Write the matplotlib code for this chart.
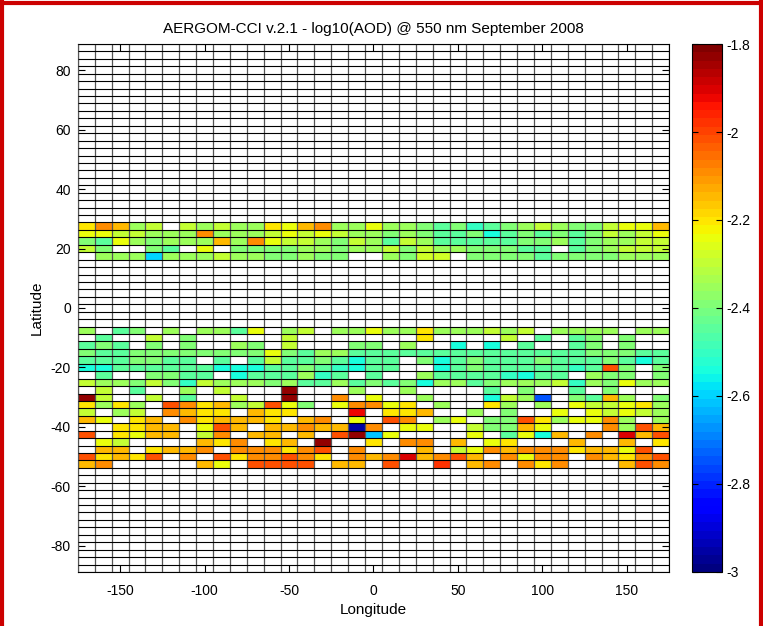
import numpy as np
import matplotlib
matplotlib.use("Agg")
import matplotlib.pyplot as plt
from matplotlib.lines import Line2D

plt.rcParams["font.family"] = ["Liberation Sans", "DejaVu Sans"]
plt.rcParams["axes.unicode_minus"] = False

n = np.nan

# 10 x 2.5 degree cells, edges of the full grid
lon_edges = np.arange(-175, 176, 10)
lat_edges = np.arange(-88.75, 88.76, 2.5)

# northern band (rows from north to south)
lat_north = [27.5, 25.0, 22.5, 20.0, 17.5]
aod_north = [
    [-2.2, -2.1, -2.15, -2.35, -2.3, n, -2.3, -2.35, -2.3, -2.35, -2.35, -2.2, -2.25, -2.15, -2.1, -2.35, -2.35, -2.25, -2.35, -2.35, -2.4, -2.45, -2.4, -2.5, -2.45, -2.4, -2.35, -2.3, -2.35, -2.4, -2.4, -2.3, -2.25, -2.25, -2.15],
    [-2.25, -2.25, -2.3, -2.3, -2.35, -2.35, -2.35, -2.1, -2.35, -2.35, -2.35, -2.3, -2.25, -2.3, -2.25, -2.3, -2.35, -2.35, -2.4, -2.35, -2.4, -2.45, -2.45, -2.4, -2.55, -2.45, -2.4, -2.45, -2.4, -2.45, -2.4, -2.3, -2.35, -2.3, -2.25],
    [-2.4, -2.45, -2.25, -2.35, -2.4, -2.35, -2.35, -2.35, -2.15, -2.35, -2.1, -2.25, -2.3, -2.3, -2.35, -2.4, -2.3, -2.35, -2.45, -2.3, -2.35, -2.45, -2.45, -2.45, -2.45, -2.45, -2.4, -2.4, -2.35, -2.45, -2.4, -2.35, -2.35, -2.3, -2.3],
    [-2.3, -2.4, n, n, -2.4, -2.45, n, -2.25, n, -2.4, -2.4, -2.4, -2.4, -2.35, -2.35, -2.4, -2.35, -2.35, -2.3, -2.4, -2.3, -2.35, -2.35, -2.4, -2.4, -2.4, -2.45, -2.45, n, -2.45, -2.4, -2.35, -2.3, -2.3, -2.3],
    [n, -2.35, -2.35, -2.35, -2.6, -2.35, -2.35, -2.35, -2.3, -2.35, -2.35, -2.4, -2.4, -2.35, -2.4, -2.4, n, n, -2.35, -2.4, -2.28, -2.28, n, -2.4, -2.4, -2.4, -2.4, -2.45, -2.4, -2.4, -2.4, -2.4, -2.35, -2.35, -2.35],
]

# southern band (rows from north to south)
lat_south = [-7.5, -10.0, -12.5, -15.0, -17.5, -20.0, -22.5, -25.0, -27.5, -30.0,
             -32.5, -35.0, -37.5, -40.0, -42.5, -45.0, -47.5, -50.0, -52.5]
aod_south = [
    [-2.35, n, -2.45, -2.4, n, -2.35, n, -2.35, -2.35, -2.45, -2.25, n, -2.35, -2.3, n, -2.35, -2.35, -2.25, -2.35, -2.35, -2.2, -2.35, -2.35, -2.35, -2.3, -2.35, -2.3, n, -2.35, -2.35, -2.35, -2.35, n, -2.35, -2.35],
    [n, -2.45, n, n, -2.3, n, -2.4, n, n, n, n, n, -2.3, n, n, n, n, n, n, n, -2.2, n, n, n, n, -2.3, n, -2.45, n, -2.45, -2.4, n, -2.4, n, n],
    [-2.45, -2.4, -2.45, n, -2.4, n, -2.4, n, n, -2.35, -2.4, n, -2.3, n, n, n, -2.4, -2.4, n, -2.35, n, n, -2.55, n, -2.55, n, -2.45, n, n, -2.45, -2.4, n, -2.4, n, n],
    [-2.4, -2.45, -2.45, -2.4, -2.4, -2.4, -2.4, -2.4, -2.4, -2.4, -2.4, -2.25, -2.4, -2.45, -2.35, -2.35, -2.45, -2.45, -2.45, -2.45, -2.45, -2.45, -2.45, -2.45, -2.45, -2.45, -2.45, -2.45, -2.45, -2.45, -2.4, -2.4, -2.4, -2.45, -2.45],
    [-2.45, -2.45, -2.45, -2.4, -2.4, -2.45, -2.45, n, -2.45, n, -2.45, -2.3, -2.45, -2.45, -2.4, -2.45, -2.55, -2.45, -2.45, n, -2.4, -2.55, -2.45, -2.4, -2.45, -2.45, -2.45, -2.4, -2.45, -2.45, -2.45, -2.4, -2.45, -2.55, -2.45],
    [-2.55, -2.55, -2.45, -2.45, -2.45, -2.45, -2.45, -2.45, -2.55, -2.55, -2.55, -2.45, -2.45, -2.4, -2.45, -2.5, -2.55, -2.45, -2.45, n, n, -2.55, -2.45, -2.4, -2.45, -2.45, -2.45, -2.45, -2.45, -2.5, -2.45, -2.02, -2.4, n, -2.4],
    [n, -2.45, n, n, -2.4, -2.4, -2.45, -2.45, n, -2.55, -2.45, -2.45, -2.45, -2.35, -2.5, -2.45, n, -2.45, n, n, -2.35, -2.45, -2.45, -2.45, -2.45, -2.5, -2.55, -2.45, -2.45, n, -2.35, -2.4, -2.4, n, -2.4],
    [-2.3, -2.35, -2.35, -2.4, -2.3, -2.4, -2.5, -2.3, -2.35, -2.35, -2.35, -2.4, -2.35, -2.45, -2.45, -2.35, -2.45, -2.4, -2.45, -2.4, -2.55, -2.35, -2.35, -2.45, -2.4, -2.35, -2.35, -2.35, -2.3, -2.5, -2.35, -2.4, -2.25, -2.35, -2.35],
    [n, -2.3, n, -2.45, n, n, -2.35, n, -2.3, n, n, n, -1.82, n, n, n, -2.35, n, n, -2.35, n, n, n, n, -2.45, n, -2.4, n, n, -2.45, n, -2.4, n, n, n],
    [-1.82, -2.3, n, n, -2.3, n, -2.45, n, n, -2.3, n, n, -1.82, n, n, -2.1, n, -2.25, n, n, -2.35, n, n, n, -2.55, -2.3, -2.35, -2.75, n, -2.4, -2.45, -2.15, -2.35, n, -2.4],
    [-2.2, -2.35, -2.2, -2.35, n, -2.02, -2.1, -2.2, -2.15, -2.35, -2.3, -2.02, -2.25, -2.4, n, -2.25, -2.1, -2.1, -2.25, -2.2, n, -2.35, n, n, -2.2, -2.35, n, -2.35, n, -2.25, -2.3, -2.3, -2.25, -2.2, -2.35],
    [-2.3, n, -2.35, -2.3, n, -2.1, -2.15, -2.2, -2.2, n, -2.15, -2.2, -2.2, n, n, n, -1.92, n, -2.2, -2.2, -2.15, n, n, -2.35, n, -2.4, n, n, -2.25, n, -2.25, -2.3, -2.25, -2.3, -2.35],
    [-2.15, -2.25, n, -2.2, -2.15, n, -2.1, -2.2, -2.15, -2.15, -2.15, -2.2, n, -2.15, -2.1, n, -2.25, n, -2.02, -2.1, n, -2.35, -2.25, n, -2.4, -2.4, -2.02, -2.2, -2.35, -2.25, -2.25, -2.1, -2.35, n, -2.35],
    [n, n, -2.2, -2.2, -2.15, -2.15, n, -2.25, -2.02, -2.15, n, -2.15, -2.15, -2.1, -2.15, -2.15, -2.95, -2.1, n, -2.25, -2.25, n, n, -2.3, -2.4, -2.4, -2.15, -2.25, n, n, n, -2.1, -2.35, -2.02, -2.15],
    [-2.02, n, -2.2, -2.25, -2.15, -2.15, n, -2.3, -2.1, n, -2.15, -2.15, n, -2.15, n, -2.02, -1.82, -2.62, -2.25, n, n, n, n, -2.25, n, -2.45, -2.25, -2.55, -2.15, n, -2.1, n, -1.9, -2.15, -2.02],
    [n, -2.25, -2.3, n, n, n, n, -2.15, -2.2, -2.1, n, -2.2, -2.15, n, -1.82, n, n, -2.2, n, -2.1, -2.1, n, -2.15, n, -2.25, -2.2, n, n, n, -2.15, n, n, -2.15, n, -2.2],
    [n, -2.15, -2.15, n, -2.2, -2.15, -2.15, -2.1, n, -2.1, -2.1, -2.1, -2.2, -2.1, -2.02, n, -2.1, n, n, n, -2.15, n, -2.3, -2.25, -2.1, -2.15, -2.1, -2.1, -2.1, -2.2, -2.15, -2.15, -2.25, -2.02, n],
    [-2.02, -2.2, -2.15, -2.2, -2.02, n, -2.1, n, -2.02, -2.2, -2.1, -2.1, -2.02, -2.1, -2.2, n, -2.1, -2.15, -2.1, -1.9, -2.15, -2.1, -2.02, -2.15, n, -2.1, -2.25, -2.1, -2.1, n, -2.1, -2.15, -2.2, -2.1, -2.02],
    [-2.15, -2.1, n, n, n, n, n, -2.15, -2.25, n, -2.02, -2.02, -2.02, -2.02, n, -2.15, -2.15, n, -2.02, n, n, -1.97, n, -2.15, -2.1, n, -2.1, -2.2, -2.1, n, n, n, -2.15, -2.02, -2.1],
]

lon_ticks = [-150, -100, -50, 0, 50, 100, 150]
lat_ticks = [-80, -60, -40, -20, 0, 20, 40, 60, 80]
cbar_ticks = [-3, -2.8, -2.6, -2.4, -2.2, -2, -1.8]

# put both bands on the global grid
lat_centers = 0.5 * (lat_edges[:-1] + lat_edges[1:])
field = np.full((len(lat_centers), len(lon_edges) - 1), np.nan)
for lats, rows in ((lat_north, aod_north), (lat_south, aod_south)):
    for lat, row in zip(lats, rows):
        i = np.argmin(np.abs(lat_centers - lat))
        field[i, :] = row
field = np.ma.masked_invalid(field)

fig = plt.figure(figsize=(7.63, 6.26), dpi=100)
ax = fig.add_axes([0.102, 0.0863, 0.775, 0.8434])

cmap = matplotlib.colormaps["jet"].resampled(64)
mesh = ax.pcolormesh(lon_edges, lat_edges, field, cmap=cmap, vmin=-3, vmax=-1.8)

# cell outlines over the whole grid, including empty cells
ax.vlines(lon_edges, lat_edges[0], lat_edges[-1], colors="#555555", linewidth=0.9, zorder=3)
ax.hlines(lat_edges, lon_edges[0], lon_edges[-1], colors="black", linewidth=0.8, zorder=3)

ax.set_xlim(lon_edges[0], lon_edges[-1])
ax.set_ylim(lat_edges[0], lat_edges[-1])
ax.set_xticks(lon_ticks)
ax.set_yticks(lat_ticks)
ax.tick_params(direction="in", top=True, right=True, length=5, width=0.8, labelsize=10)
ax.tick_params(axis="x", pad=9)
ax.tick_params(axis="y", pad=5)
for s in ax.spines.values():
    s.set_linewidth(0.8)

ax.set_title("AERGOM-CCI v.2.1 - log10(AOD) @ 550 nm September 2008", fontsize=11, pad=8)
ax.set_xlabel("Longitude", fontsize=11, labelpad=3)
ax.set_ylabel("Latitude", fontsize=11, labelpad=5)

cax = fig.add_axes([692 / 763, 0.0863, 30 / 763, 0.8434])
cb = fig.colorbar(mesh, cax=cax, ticks=cbar_ticks, format="%g")
cb.outline.set_linewidth(0.8)
cax.tick_params(direction="in", left=True, right=True, length=4, width=0.8, labelsize=10)

# red frame on the left, top and right of the figure
red = "#cc0000"
fig.add_artist(Line2D([0.003, 0.003], [0, 1], transform=fig.transFigure, color=red, linewidth=3))
fig.add_artist(Line2D([0, 1], [0.995, 0.995], transform=fig.transFigure, color=red, linewidth=3))
fig.add_artist(Line2D([0.997, 0.997], [0, 1], transform=fig.transFigure, color=red, linewidth=3))

fig.savefig("out.png", dpi=100)
